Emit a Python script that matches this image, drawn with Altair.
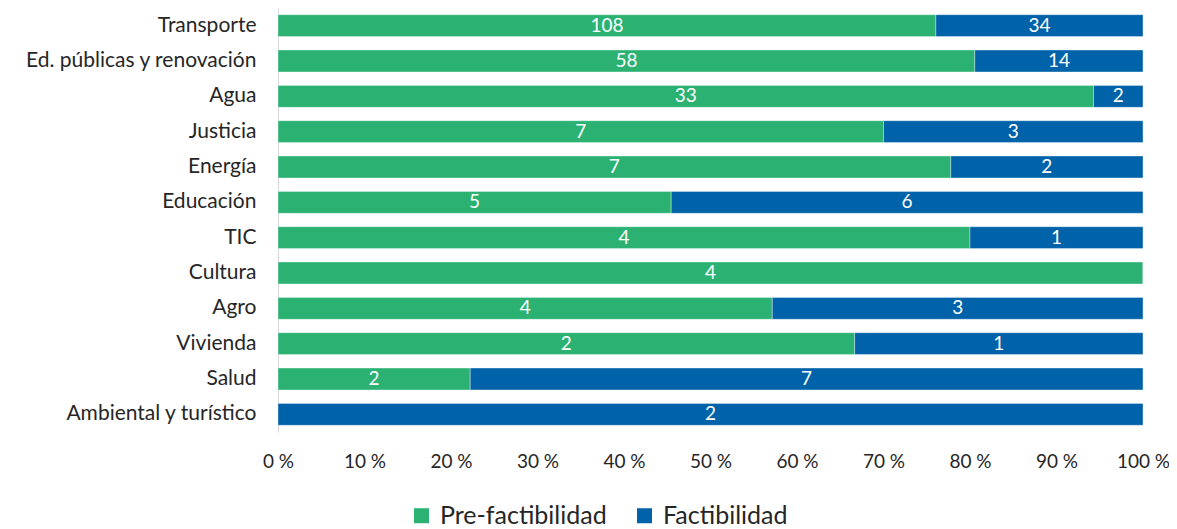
import altair as alt
import pandas as pd

categories = ["Transporte", "Ed. públicas y renovación ", "Agua", "Justicia", "Energía",
              "Educación", "TIC", "Cultura", "Agro", "Vivienda", "Salud", "Ambiental y turístico"]
pre_factibilidad = [108, 58, 33, 7, 7, 5, 4, 4, 4, 2, 2, 0]
factibilidad = [34, 14, 2, 3, 2, 6, 1, 0, 3, 1, 7, 2]
series = ["Pre-factibilidad", "Factibilidad"]
colors = ["#2BB273", "#0062A8"]

rows = []
for c, p, f in zip(categories, pre_factibilidad, factibilidad):
    rows.append({"cat": c, "serie": series[0], "val": p, "ord": 0})
    rows.append({"cat": c, "serie": series[1], "val": f, "ord": 1})
df = pd.DataFrame(rows)

FONT = "Lato"

base = alt.Chart(df).transform_stack(
    stack="val", groupby=["cat"], as_=["x0", "x1"], offset="normalize",
    sort=[alt.SortField("ord", order="ascending")]
).transform_calculate(mid="(datum.x0 + datum.x1) / 2")

y_enc = alt.Y("cat:N", sort=categories, title=None,
              scale=alt.Scale(paddingInner=0.38, paddingOuter=0.19),
              axis=alt.Axis(domainColor="#d9d9d9", domainWidth=1, ticks=False,
                            labelFontSize=21, labelColor="#262626", labelFont=FONT,
                            labelPadding=22, labelLimit=300))

bars = base.mark_bar(stroke="#ffffff", strokeWidth=0.6, strokeOpacity=0.6).encode(
    x=alt.X("x0:Q", scale=alt.Scale(domain=[0, 1], nice=False),
            axis=alt.Axis(values=[i / 10 for i in range(11)],
                          labelExpr="round(datum.value * 100) + ' %'",
                          grid=False, domain=False, ticks=False, labelFlush=False,
                          labelFontSize=19, labelColor="#262626", labelFont=FONT,
                          labelPadding=20, title=None)),
    x2="x1:Q",
    y=y_enc,
    color=alt.Color("serie:N", sort=series,
                    scale=alt.Scale(domain=series, range=colors),
                    legend=alt.Legend(title=None, orient="none", direction="horizontal",
                                      legendX=131, legendY=495,
                                      symbolType="square", symbolSize=225,
                                      symbolStrokeWidth=0, labelFontSize=25,
                                      labelFont=FONT, labelColor="#262626",
                                      labelLimit=400,
                                      columnPadding=25, labelOffset=6)),
)

texts = base.transform_filter("datum.val > 0").mark_text(
    color="white", fontSize=19, font=FONT, baseline="middle", align="center"
).encode(
    x="mid:Q",
    y=alt.Y("cat:N", sort=categories),
    text="val:Q",
)

chart = (bars + texts).properties(
    width=865, height=424,
    autosize=alt.AutoSizeParams(type="none"),
    padding={"left": 270, "top": 0, "right": 26, "bottom": 97},
).configure_view(stroke=None)

chart.save("out.html", embed_options={"renderer": "svg", "actions": False})
